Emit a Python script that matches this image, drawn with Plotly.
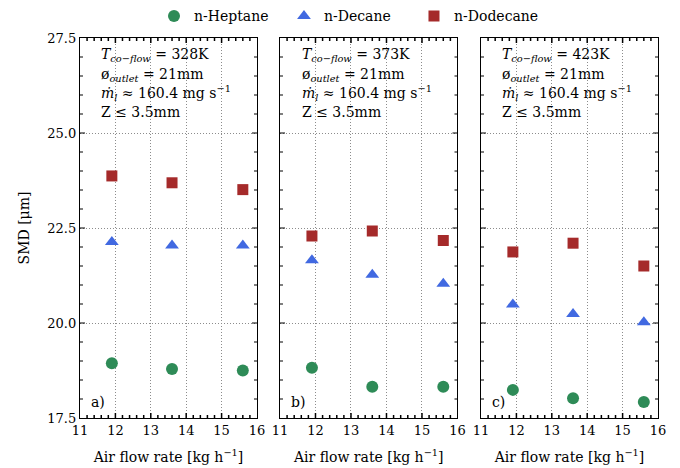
import plotly.graph_objects as go

# ---------------- data ----------------
air_flow = [11.9, 13.6, 15.6]
panel_labels = ["a)", "b)", "c)"]
t_coflow = ["328K", "373K", "423K"]

heptane = [
    [18.94, 18.79, 18.75],
    [18.82, 18.32, 18.32],
    [18.24, 18.02, 17.92],
]
decane = [
    [22.13, 22.04, 22.04],
    [21.65, 21.27, 21.03],
    [20.49, 20.24, 20.02],
]
dodecane = [
    [23.87, 23.69, 23.51],
    [22.29, 22.42, 22.17],
    [21.87, 22.10, 21.50],
]

series_names = ["n-Heptane", "n-Decane", "n-Dodecane"]
series_colors = ["#2e8b57", "#4169e1", "#a52a2a"]
series_symbols = ["circle", "triangle-up", "square"]
series_data = [heptane, decane, dodecane]
y_ticks = [17.5, 20.0, 22.5, 25.0, 27.5]
x_ticks = [11, 12, 13, 14, 15, 16]
x_minor = [round(11 + 0.2 * i, 1) for i in range(26) if i % 5 != 0]
y_minor = [round(17.5 + 0.5 * i, 1) for i in range(21) if i % 5 != 0]

FONT = "DejaVu Serif"
domains = [[0.0, 0.3062], [0.346, 0.6531], [0.6938, 1.0]]
PLOT_H, PLOT_W = 380.0, 177.0

fig = go.Figure()
for p in range(3):
    xa = "x" if p == 0 else f"x{p+1}"
    ya = "y" if p == 0 else f"y{p+1}"
    for s in range(3):
        fig.add_trace(go.Scatter(
            x=air_flow, y=series_data[s][p], mode="markers",
            name=series_names[s], showlegend=(p == 0),
            marker=dict(symbol=series_symbols[s], color=series_colors[s],
                        size=12 if s != 2 else 11),
            xaxis=xa, yaxis=ya,
        ))

axis_common = dict(
    showline=True, linecolor="black", linewidth=1.3, mirror=True, ticks="",
    showgrid=True, gridcolor="#8c8c8c", griddash="1px,2px", gridwidth=1,
    zeroline=False, tickfont=dict(family=FONT, size=13, color="black"),
)

layout = dict(
    width=672, height=460,
    margin=dict(l=72, r=22, t=30, b=50, autoexpand=False),
    plot_bgcolor="white", paper_bgcolor="white",
    font=dict(family=FONT, size=13, color="black"),
    legend=dict(orientation="h", x=0.128, xanchor="left", y=1.015, yanchor="bottom",
                entrywidth=85, entrywidthmode="pixels",
                font=dict(family=FONT, size=14, color="black")),
)

for p in range(3):
    xk = "xaxis" if p == 0 else f"xaxis{p+1}"
    yk = "yaxis" if p == 0 else f"yaxis{p+1}"
    layout[xk] = dict(
        axis_common, domain=domains[p], range=[11, 16], tickvals=x_ticks,
        title=dict(text="Air flow rate [kg h<sup>−1</sup>]", font=dict(family=FONT, size=14, color="black")),
        anchor="y" if p == 0 else f"y{p+1}",
    )
    layout[yk] = dict(
        axis_common, range=[17.5, 27.5], tickvals=y_ticks, tickformat=".1f",
        showticklabels=(p == 0),
        anchor="x" if p == 0 else f"x{p+1}",
    )
layout["yaxis"]["title"] = dict(text="SMD [μm]", font=dict(family=FONT, size=14, color="black"), standoff=14)

fig.update_layout(**layout)

# inward ticks on all four sides of every panel (drawn as paths in axis units)
maj_y, min_y = 5 / PLOT_H, 3 / PLOT_H
maj_x, min_x = 5 / PLOT_W, 3 / PLOT_W
for p in range(3):
    xa = "x" if p == 0 else f"x{p+1}"
    ya = "y" if p == 0 else f"y{p+1}"
    segs = []
    for v in x_ticks[1:-1]:
        segs.append(f"M{v},0 L{v},{maj_y:.4f} M{v},1 L{v},{1 - maj_y:.4f}")
    for v in x_minor:
        segs.append(f"M{v},0 L{v},{min_y:.4f} M{v},1 L{v},{1 - min_y:.4f}")
    fig.add_shape(type="path", path=" ".join(segs), xref=xa, yref=f"{ya} domain",
                  line=dict(color="black", width=1.5))
    segs = []
    for v in y_ticks[1:-1]:
        segs.append(f"M0,{v} L{maj_x:.4f},{v} M1,{v} L{1 - maj_x:.4f},{v}")
    for v in y_minor:
        segs.append(f"M0,{v} L{min_x:.4f},{v} M1,{v} L{1 - min_x:.4f},{v}")
    fig.add_shape(type="path", path=" ".join(segs), xref=f"{xa} domain", yref=ya,
                  line=dict(color="black", width=1.2))

for p in range(3):
    xr = "x domain" if p == 0 else f"x{p+1} domain"
    yr = "y domain" if p == 0 else f"y{p+1} domain"
    lines = [
        f"<i>T</i><sub><i>co−flow</i></sub> = {t_coflow[p]}",
        "ø<sub><i>outlet</i></sub> = 21mm",
        "<i>ṁ</i><sub><i>l</i></sub> ≈ 160.4 mg s<sup>−1</sup>",
        "Z ≤ 3.5mm",
    ]
    ys = [0.955, 0.903, 0.855, 0.805]
    for line, yy in zip(lines, ys):
        fig.add_annotation(text=line, xref=xr, yref=yr, x=0.11, y=yy,
                           xanchor="left", yanchor="middle", showarrow=False,
                           font=dict(family=FONT, size=14, color="black"))
    fig.add_annotation(text=panel_labels[p], xref=xr, yref=yr, x=0.05, y=0.042,
                       xanchor="left", yanchor="middle", showarrow=False,
                       font=dict(family=FONT, size=14, color="black"))

fig.write_html("out.html")
